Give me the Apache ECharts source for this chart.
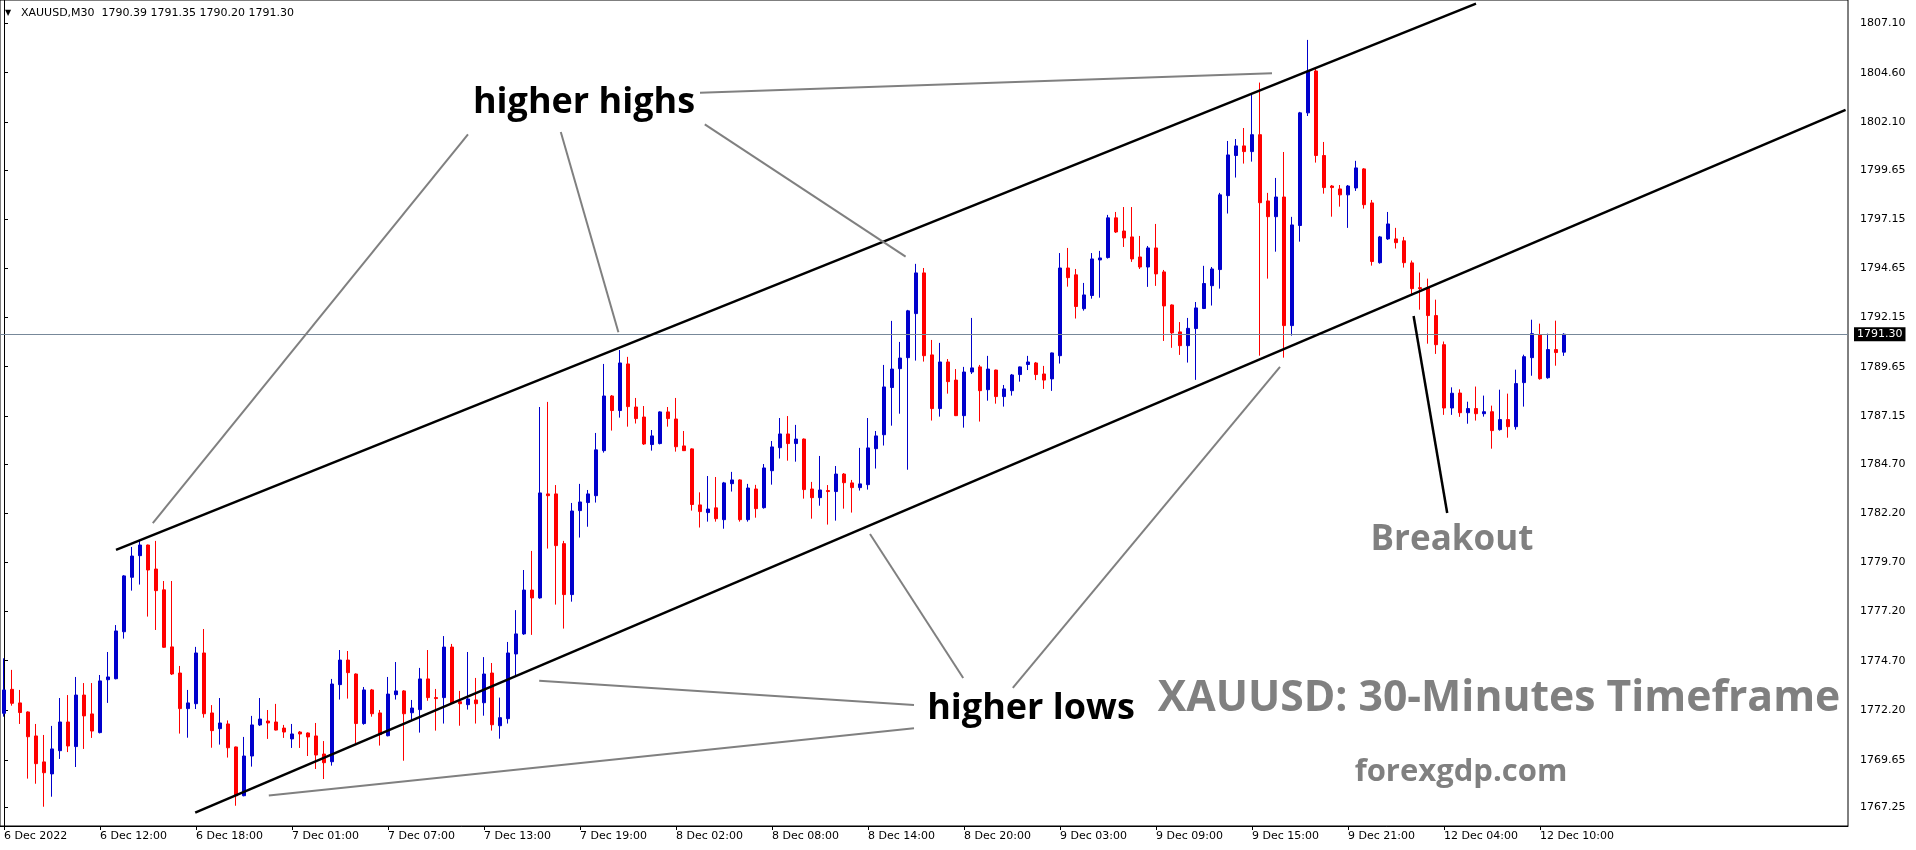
<!DOCTYPE html>
<html><head><meta charset="utf-8">
<script src="https://cdn.jsdelivr.net/npm/echarts@6/dist/echarts.min.js"></script>
<style>html,body{margin:0;padding:0;background:#fff}#c{width:1916px;height:850px}</style>
</head><body><div id="c"></div><script>
// ---- data ----
const symbolName = 'XAUUSD,M30';
const timeLabels = ['6 Dec 2022','6 Dec 12:00','6 Dec 18:00','7 Dec 01:00','7 Dec 07:00','7 Dec 13:00','7 Dec 19:00','8 Dec 02:00','8 Dec 08:00','8 Dec 14:00','8 Dec 20:00','9 Dec 03:00','9 Dec 09:00','9 Dec 15:00','9 Dec 21:00','12 Dec 04:00','12 Dec 10:00'];
const labelStep = 12;
const priceTicks = [1767.25,1769.65,1772.20,1774.70,1777.20,1779.70,1782.20,1784.70,1787.15,1789.65,1792.15,1794.65,1797.15,1799.65,1802.10,1804.60,1807.10];
const opens = [1772.02,1773.24,1772.55,1772.09,1770.87,1769.55,1768.94,1770.12,1771.58,1770.33,1772.95,1771.99,1771.04,1773.73,1773.78,1776.17,1778.94,1780.04,1780.58,1779.36,1778.30,1775.40,1774.07,1772.26,1772.51,1775.09,1772.04,1771.24,1771.48,1770.31,1767.83,1769.85,1771.43,1771.63,1771.58,1771.27,1770.72,1771.07,1771.02,1770.87,1769.95,1769.56,1773.48,1774.73,1774.02,1771.50,1773.21,1772.04,1770.88,1772.97,1773.16,1772.05,1772.21,1773.77,1772.82,1772.82,1775.39,1772.61,1772.46,1772.70,1772.56,1774.07,1771.39,1771.75,1775.04,1776.06,1778.29,1777.89,1783.18,1783.18,1780.65,1778.06,1782.33,1782.74,1783.09,1785.38,1788.16,1787.42,1789.79,1787.60,1787.09,1785.69,1785.74,1787.35,1786.99,1785.62,1785.47,1782.62,1782.23,1782.47,1781.87,1783.70,1783.89,1781.87,1783.43,1782.48,1784.36,1785.53,1786.23,1785.74,1785.97,1783.43,1782.99,1783.35,1783.30,1784.19,1783.74,1783.50,1783.65,1785.48,1786.19,1788.59,1789.55,1790.11,1792.35,1794.42,1790.25,1787.52,1789.89,1788.97,1787.16,1789.38,1789.64,1788.48,1789.48,1788.13,1788.43,1789.25,1789.76,1789.84,1789.28,1789.03,1790.21,1794.67,1794.32,1792.60,1793.27,1795.08,1795.20,1797.22,1796.55,1796.25,1795.23,1794.72,1795.69,1794.47,1792.79,1791.42,1790.72,1791.59,1792.61,1793.77,1794.59,1798.35,1800.39,1800.88,1800.59,1801.45,1798.08,1797.28,1798.28,1791.74,1796.83,1802.56,1804.69,1800.39,1798.84,1798.69,1798.39,1798.74,1799.71,1797.98,1794.94,1796.15,1796.15,1796.05,1794.93,1793.67,1793.67,1792.25,1790.77,1787.55,1788.31,1787.31,1787.52,1787.26,1787.36,1786.45,1786.96,1786.60,1788.84,1790.11,1791.28,1789.09,1790.52,1790.39];
const highs = [1774.82,1774.23,1773.21,1772.12,1771.48,1770.92,1771.38,1772.80,1772.95,1773.87,1773.56,1773.56,1773.97,1775.14,1776.51,1779.05,1780.48,1780.84,1780.60,1780.79,1778.75,1778.75,1774.43,1773.21,1775.40,1776.31,1772.44,1772.80,1771.66,1770.33,1770.82,1771.89,1772.80,1772.19,1772.50,1771.43,1771.48,1771.12,1771.05,1771.53,1770.61,1773.77,1775.24,1775.19,1774.05,1773.36,1773.26,1772.19,1773.87,1774.63,1773.20,1772.70,1774.33,1775.24,1773.26,1775.95,1775.55,1773.16,1775.14,1773.82,1774.88,1774.58,1772.82,1775.65,1777.27,1779.31,1780.28,1787.60,1787.86,1783.63,1780.79,1782.72,1783.69,1783.38,1786.28,1789.79,1788.21,1790.50,1790.15,1788.06,1787.65,1786.43,1787.38,1787.60,1788.06,1786.38,1785.50,1783.26,1784.09,1784.04,1783.79,1784.30,1783.92,1783.69,1783.64,1784.70,1785.87,1787.04,1787.14,1786.69,1786.00,1783.79,1785.11,1783.63,1784.60,1784.24,1783.89,1785.52,1787.04,1786.38,1789.74,1791.98,1790.91,1792.54,1794.88,1794.67,1791.01,1790.86,1790.04,1789.53,1789.64,1792.13,1789.74,1790.20,1789.50,1788.72,1789.28,1789.66,1790.20,1789.89,1789.69,1790.37,1795.43,1795.69,1794.62,1793.91,1795.43,1795.54,1797.37,1797.52,1797.77,1797.77,1796.30,1795.79,1796.91,1794.57,1792.82,1791.92,1792.13,1792.94,1794.78,1794.72,1798.49,1801.13,1801.23,1801.79,1803.50,1804.10,1798.49,1799.25,1800.57,1797.27,1802.61,1806.27,1804.80,1801.08,1798.89,1798.89,1798.89,1800.12,1799.75,1798.13,1796.30,1797.52,1796.71,1796.25,1795.05,1794.44,1794.13,1793.06,1790.93,1788.60,1788.50,1787.87,1788.64,1788.18,1787.67,1788.48,1788.28,1789.50,1790.26,1792.04,1791.84,1791.33,1791.99,1791.35];
const lows = [1771.85,1772.41,1771.48,1768.70,1768.44,1767.27,1767.78,1769.70,1770.05,1769.29,1770.21,1770.77,1771.00,1772.55,1773.75,1775.82,1778.26,1778.57,1776.94,1776.26,1775.35,1773.97,1770.99,1770.78,1772.24,1771.80,1770.27,1770.43,1769.77,1767.32,1767.80,1769.31,1771.38,1770.72,1771.15,1770.77,1770.26,1770.26,1769.85,1769.19,1768.68,1769.36,1772.72,1772.77,1770.48,1771.44,1771.85,1770.38,1770.85,1772.72,1769.61,1771.68,1771.04,1772.66,1771.14,1771.50,1772.50,1771.39,1772.21,1771.50,1771.90,1771.14,1770.73,1771.50,1773.94,1776.01,1776.01,1777.85,1780.40,1777.55,1776.33,1777.70,1780.96,1781.51,1782.74,1785.28,1786.40,1787.06,1786.60,1786.76,1785.67,1785.38,1785.70,1786.60,1785.33,1785.36,1782.33,1781.47,1781.77,1781.77,1781.41,1783.30,1781.77,1781.77,1781.97,1782.43,1783.65,1784.98,1784.87,1784.82,1782.94,1781.92,1782.58,1781.62,1781.82,1782.43,1782.23,1783.35,1783.40,1784.47,1785.64,1786.65,1787.26,1784.41,1789.96,1789.91,1786.91,1787.11,1788.28,1787.14,1786.55,1789.28,1786.86,1787.92,1787.77,1787.62,1788.18,1788.89,1789.48,1788.97,1788.52,1788.42,1789.81,1793.72,1792.10,1792.50,1793.11,1793.16,1795.15,1796.45,1795.74,1794.98,1794.62,1793.71,1793.76,1790.96,1790.61,1790.25,1789.86,1788.98,1792.58,1792.76,1793.62,1797.44,1799.27,1799.98,1800.08,1790.21,1794.13,1795.50,1790.11,1791.23,1796.01,1802.40,1800.03,1798.45,1797.28,1797.79,1796.71,1798.59,1797.69,1794.79,1794.89,1796.10,1795.66,1794.69,1793.32,1792.55,1790.82,1790.30,1787.20,1787.20,1787.10,1786.75,1786.91,1787.11,1785.48,1786.40,1786.04,1786.45,1787.62,1789.19,1788.99,1789.04,1789.70,1790.20];
const closes = [1773.21,1772.53,1772.06,1770.83,1769.46,1769.00,1770.21,1771.58,1770.36,1772.95,1771.89,1771.12,1773.67,1773.87,1776.21,1779.01,1780.02,1780.58,1779.31,1778.26,1775.38,1774.02,1772.26,1772.55,1775.09,1772.00,1771.14,1771.53,1770.27,1767.83,1769.85,1771.43,1771.73,1771.53,1771.17,1771.07,1770.97,1770.97,1770.82,1769.90,1769.51,1773.51,1774.73,1774.09,1771.50,1773.21,1772.00,1770.94,1773.00,1773.16,1772.00,1772.29,1773.77,1772.82,1772.77,1775.39,1772.53,1772.51,1772.75,1772.51,1774.02,1771.44,1771.80,1775.09,1776.06,1778.29,1777.89,1783.23,1783.09,1780.55,1778.06,1782.31,1782.77,1783.18,1785.42,1788.16,1787.42,1789.84,1787.62,1787.01,1785.72,1786.13,1787.35,1787.01,1785.58,1785.38,1782.64,1782.28,1782.41,1781.92,1783.74,1783.89,1781.87,1783.48,1782.43,1784.50,1785.57,1786.23,1785.74,1785.97,1783.40,1782.99,1783.38,1783.30,1784.19,1783.75,1783.50,1783.69,1785.52,1786.13,1788.62,1789.53,1790.09,1792.49,1794.42,1790.21,1787.52,1789.89,1788.89,1787.16,1789.38,1789.59,1788.43,1789.53,1788.13,1788.52,1789.23,1789.64,1789.89,1789.25,1788.97,1790.35,1794.67,1794.18,1792.71,1793.30,1795.13,1795.18,1797.22,1796.50,1796.20,1795.13,1794.72,1795.69,1794.37,1792.74,1791.37,1790.72,1791.60,1792.64,1793.88,1794.62,1798.39,1800.42,1800.88,1800.59,1801.45,1797.99,1797.28,1798.28,1791.74,1796.86,1802.56,1804.69,1800.39,1798.76,1798.76,1798.39,1798.84,1799.76,1797.89,1795.00,1796.25,1796.91,1795.96,1794.94,1793.62,1793.62,1792.25,1790.77,1787.55,1788.30,1787.31,1787.52,1787.26,1787.36,1786.40,1786.96,1786.60,1788.79,1790.16,1791.33,1789.04,1790.52,1790.37,1791.30];
const slotCount = 231; // bar slots across the window (incl. empty right margin)
// drawn objects, in [bar index, price]
const channelUpper = [[14.0, 1780.33], [184.0, 1808.12]];
const channelLower = [[23.9, 1766.97], [230.2, 1802.71]];
const breakoutLine = [[176.2, 1792.23], [180.4, 1782.21]];
const pointerLines = [
  [[18.6, 1781.70], [58.0, 1801.47]],
  [[76.8, 1791.40], [69.6, 1801.59]],
  [[112.7, 1795.25], [87.6, 1801.97]],
  [[87.0, 1803.58], [158.5, 1804.58]],
  [[108.25, 1781.14], [119.9, 1773.82]],
  [[159.5, 1789.64], [126.1, 1773.31]],
  [[66.9, 1773.68], [113.75, 1772.44]],
  [[33.1, 1767.84], [113.75, 1771.26]]
];

// ---- build ----
const N = opens.length;
const last = N - 1;
const categories = [];
for (let i = 0; i < slotCount; i++) {
  categories.push(i < N + labelStep && i % labelStep === 0 && timeLabels[i / labelStep] ? timeLabels[i / labelStep] : '');
}
const candles = opens.map((o, i) => [o, closes[i], lows[i], highs[i]]);
const F = 'DejaVu Sans';
const showIdx = (i) => categories[i] !== '';

const lineSeries = (pts, color, width) => ({
  type: 'line', xAxisIndex: 1, yAxisIndex: 0, data: pts, symbol: 'none',
  lineStyle: { color: color, width: width }, silent: true, animation: false, z: 5
});

const series = [{
  type: 'candlestick', data: candles, barWidth: 4,
  itemStyle: { color: '#0000CC', color0: '#FF0000', borderColor: '#0000CC', borderColor0: '#FF0000', borderWidth: 1 },
  animation: false,
  markLine: {
    silent: true, symbol: 'none', animation: false,
    data: [{ yAxis: closes[last] }],
    lineStyle: { color: '#778899', width: 1, type: 'solid' },
    label: { position: 'end', formatter: closes[last].toFixed(2), backgroundColor: '#000', color: '#fff', padding: [2, 3, 1, 3], fontSize: 11, fontFamily: F, distance: 6 }
  }
}];
series.push(lineSeries(channelUpper, '#000', 2.5));
series.push(lineSeries(channelLower, '#000', 2.5));
series.push(lineSeries(breakoutLine, '#000', 2.5));
pointerLines.forEach(p => series.push(lineSeries(p, '#808080', 2)));

const txt = (x, y, s, size, fill) => ({
  type: 'text', x: x, y: y, silent: true, z: 10,
  style: { text: s, fill: fill, font: 'bold ' + size + 'px "Open Sans"', textAlign: 'center', textVerticalAlign: 'middle' }
});

const chart = echarts.init(document.getElementById('c'), null, { renderer: 'canvas' });
chart.setOption({
  animation: false,
  backgroundColor: '#fff',
  grid: { left: 0, top: 0, width: slotCount * 8, height: 826, show: true, borderColor: '#000', borderWidth: 1, backgroundColor: 'transparent' },
  xAxis: [{
    type: 'category', data: categories, boundaryGap: true,
    axisLine: { show: true, lineStyle: { color: '#000', width: 1 } },
    axisTick: { show: true, alignWithLabel: true, interval: (i) => showIdx(i), length: 4, lineStyle: { color: '#000' } },
    axisLabel: { interval: (i) => showIdx(i), align: 'left', margin: 5, color: '#000', fontSize: 11, fontFamily: F },
    splitLine: { show: false }
  }, {
    type: 'value', min: -0.5, max: slotCount - 0.5, show: false
  }],
  yAxis: [{
    type: 'value', position: 'right', min: 1766.29, max: 1808.30, scale: true,
    axisLine: { show: true, lineStyle: { color: '#000', width: 1 } },
    axisTick: { show: true, length: 4, customValues: priceTicks, lineStyle: { color: '#000' } },
    axisLabel: { customValues: priceTicks, formatter: (v) => v.toFixed(2), margin: 12, color: '#000', fontSize: 11, fontFamily: F },
    splitLine: { show: false }
  }],
  series: series,
  graphic: [
    { type: 'text', x: 5, y: 13, silent: true, style: { text: '\u25BC', fill: '#000', font: '8px "DejaVu Sans"', textVerticalAlign: 'middle' } },
    { type: 'text', x: 21, y: 13, silent: true, style: { text: symbolName + '  ' + [opens[last], highs[last], lows[last], closes[last]].map(v => v.toFixed(2)).join(' '), fill: '#000', font: '11px "DejaVu Sans"', textVerticalAlign: 'middle' } },
    txt(584, 103, 'higher highs', 36, '#000'),
    txt(1031, 709, 'higher lows', 36, '#000'),
    txt(1452, 540, 'Breakout', 35, '#808080'),
    txt(1499, 699, 'XAUUSD: 30-Minutes Timeframe', 42.7, '#808080'),
    txt(1461, 772, 'forexgdp.com', 31, '#808080')
  ]
});
</script></body></html>
